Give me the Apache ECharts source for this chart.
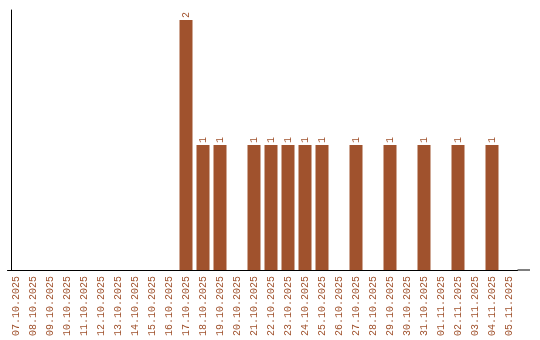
<!DOCTYPE html>
<html><head><meta charset="utf-8">
<script src="https://cdn.jsdelivr.net/npm/echarts@6/dist/echarts.min.js"></script>
<style>html,body{margin:0;padding:0;background:#fff}#c{width:540px;height:340px}</style>
</head><body><div id="c"></div>
<script>
const categories = ['07.10.2025','08.10.2025','09.10.2025','10.10.2025','11.10.2025','12.10.2025','13.10.2025','14.10.2025','15.10.2025','16.10.2025','17.10.2025','18.10.2025','19.10.2025','20.10.2025','21.10.2025','22.10.2025','23.10.2025','24.10.2025','25.10.2025','26.10.2025','27.10.2025','28.10.2025','29.10.2025','30.10.2025','31.10.2025','01.11.2025','02.11.2025','03.11.2025','04.11.2025','05.11.2025'];
const values = [0,0,0,0,0,0,0,0,0,0,2,1,1,0,1,1,1,1,1,0,1,0,1,0,1,0,1,0,1,0];
const color = '#A0522D';
const chart = echarts.init(document.getElementById('c'));
chart.setOption({
  animation:false,
  grid:{left:7.5, width:510, top:10, bottom:70},
  xAxis:{type:'category', data:categories,
    axisLine:{lineStyle:{color:'#000', width:1}}, axisTick:{show:false},
    axisLabel:{rotate:90, color:color, fontFamily:'Liberation Mono', fontSize:10, margin:6, interval:0}},
  yAxis:{type:'value', min:0, max:2.08, offset:-3.5, splitLine:{show:false},
    axisLine:{show:true, lineStyle:{color:'#000'}}, axisTick:{show:false}, axisLabel:{show:false}},
  series:[{type:'bar', data:values.map(v=>v===0?null:v), barWidth:13, itemStyle:{color:color},
    label:{show:true, position:'top', rotate:90, align:'left', verticalAlign:'middle', distance:2,
      color:color, fontFamily:'Liberation Mono', fontSize:10}}],
  graphic:[{type:'line', shape:{x1:517.5, y1:270, x2:530, y2:270}, style:{stroke:'#000', lineWidth:1}}]
});
</script></body></html>
